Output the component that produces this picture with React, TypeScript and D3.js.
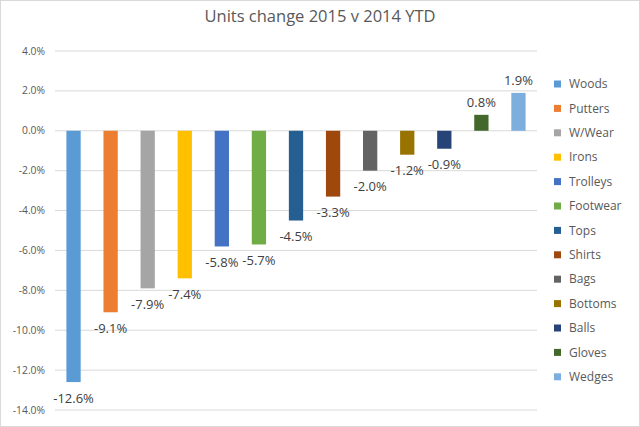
import React from "react";
import * as d3 from "d3";

const categories = ["Woods", "Putters", "W/Wear", "Irons", "Trolleys", "Footwear", "Tops", "Shirts", "Bags", "Bottoms", "Balls", "Gloves", "Wedges"];
const values = [-12.6, -9.1, -7.9, -7.4, -5.8, -5.7, -4.5, -3.3, -2.0, -1.2, -0.9, 0.8, 1.9];
const colors = ["#5B9BD5", "#ED7D31", "#A5A5A5", "#FFC000", "#4472C4", "#70AD47", "#255E91", "#9E480E", "#636363", "#997300", "#264478", "#43682B", "#7CAFDD"];
const yTicks = [4, 2, 0, -2, -4, -6, -8, -10, -12, -14];
const title = "Units change 2015 v 2014 YTD";

const W = 640;
const H = 427;
const FONT = "'Open Sans', 'Noto Sans', sans-serif";

export default function App() {
  const x = d3.scaleBand<string>().domain(categories).range([55, 537]).paddingInner(0.615).paddingOuter(0.3075);
  const y = d3.scaleLinear().domain([-14, 4]).range([410, 51]);
  const fmt = (v: number) => v.toFixed(1) + "%";

  return (
    <div style={{ position: "absolute", left: 0, top: 0 }}>
      <svg width={W} height={H} style={{ display: "block", background: "#fff" }}>
        <rect x={0.5} y={0.5} width={W - 1} height={H - 1} fill="#fff" stroke="#D9D9D9" />
        <text x={320} y={22} textAnchor="middle" fontFamily={FONT} fontSize={16.5} fill="#595959">{title}</text>
        {yTicks.map((t) => (
          <g key={t}>
            <line x1={55} x2={537} y1={y(t)} y2={y(t)} stroke="#D9D9D9" strokeWidth={1} />
            <text x={45} y={y(t)} dy="0.35em" textAnchor="end" fontFamily={FONT} fontSize={10.3} fill="#595959">{fmt(t)}</text>
          </g>
        ))}
        {categories.map((c, i) => {
          const v = values[i];
          const x0 = x(c)!;
          const top = Math.min(y(v), y(0));
          const h = Math.abs(y(v) - y(0));
          const cx = x0 + x.bandwidth() / 2;
          return (
            <g key={c}>
              <rect x={x0} y={top} width={x.bandwidth()} height={h} fill={colors[i]} />
              <text x={cx} y={v < 0 ? y(v) + 16 : y(v) - 12.5} dy="0.35em" textAnchor="middle" fontFamily={FONT} fontSize={13} fill="#404040">{fmt(v)}</text>
            </g>
          );
        })}
        {categories.map((c, i) => {
          const ly = 84 + i * 24.4;
          return (
            <g key={"l" + c}>
              <rect x={554} y={ly - 3.5} width={7} height={7} fill={colors[i]} />
              <text x={569} y={ly} dy="0.35em" fontFamily={FONT} fontSize={12} fill="#595959">{c}</text>
            </g>
          );
        })}
      </svg>
    </div>
  );
}
